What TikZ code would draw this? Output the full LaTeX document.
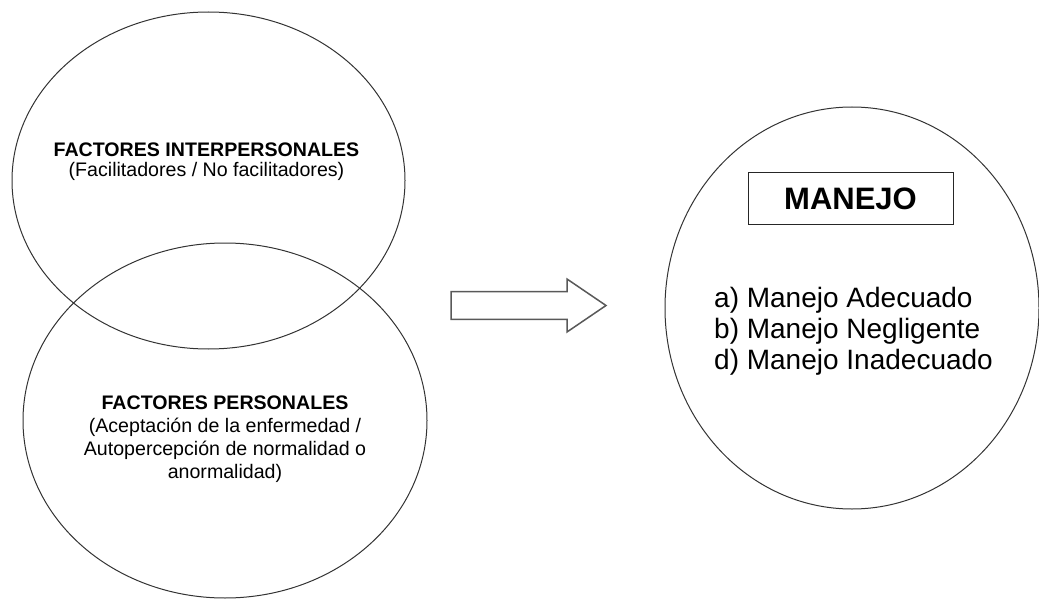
\documentclass[tikz,border=0pt]{standalone}
\usepackage{fontspec}
\setmainfont{Liberation Sans}
\usetikzlibrary{shapes.geometric}
\begin{document}
\begin{tikzpicture}[x=1pt,y=-1pt,
  bubble/.style={draw=black!80, line width=1pt, ellipse, inner sep=0pt},
  lefttext/.style={align=center, text=black},
  listline/.style={anchor=west, inner sep=0pt, font=\fontsize{28}{32}\selectfont},
  blockarrow/.style={draw=black!65, line width=1.5pt, line join=miter, fill=white}]
\useasboundingbox (0,0) rectangle (1039,599);

% the three circles
\node[bubble, minimum width=393pt, minimum height=337pt] (inter) at (208.5,180.5) {};
\node[bubble, minimum width=404pt, minimum height=355pt] (pers) at (225,420.5) {};
\node[bubble, minimum width=374pt, minimum height=402pt] (manejo) at (852,308) {};

% texts of the left circles
\node[lefttext, font=\fontsize{19.6}{20}\selectfont] (intertxt) at (206.5,162)
  {\textbf{FACTORES INTERPERSONALES}\\(Facilitadores / No facilitadores)};
\node[lefttext, font=\fontsize{19.6}{23}\selectfont] (perstxt) at (225,439)
  {\textbf{FACTORES PERSONALES}\\(Aceptación de la enfermedad /\\Autopercepción de normalidad o\\anormalidad)};

% block arrow between the groups
\coordinate (tailtop) at (451,291.7);
\coordinate (tailbot) at (451,319.3);
\coordinate (tip) at (606,305.5);
\draw[blockarrow] (tailtop) -- (567,291.7) -- (567,279) -- (tip)
  -- (567,332) -- (567,319.3) -- (tailbot) -- cycle;

% title box and list inside the right circle
\node[draw=black!85, line width=1pt, minimum width=205pt, minimum height=51pt,
  font=\bfseries\fontsize{31}{31}\selectfont] (titulo) at (850.5,198.5) {MANEJO};
\node[listline] (opa) at (714,300) {a) Manejo Adecuado};
\node[listline] (opb) at (714,331) {b) Manejo Negligente};
\node[listline] (opd) at (714,362) {d) Manejo Inadecuado};
\end{tikzpicture}
\end{document}
